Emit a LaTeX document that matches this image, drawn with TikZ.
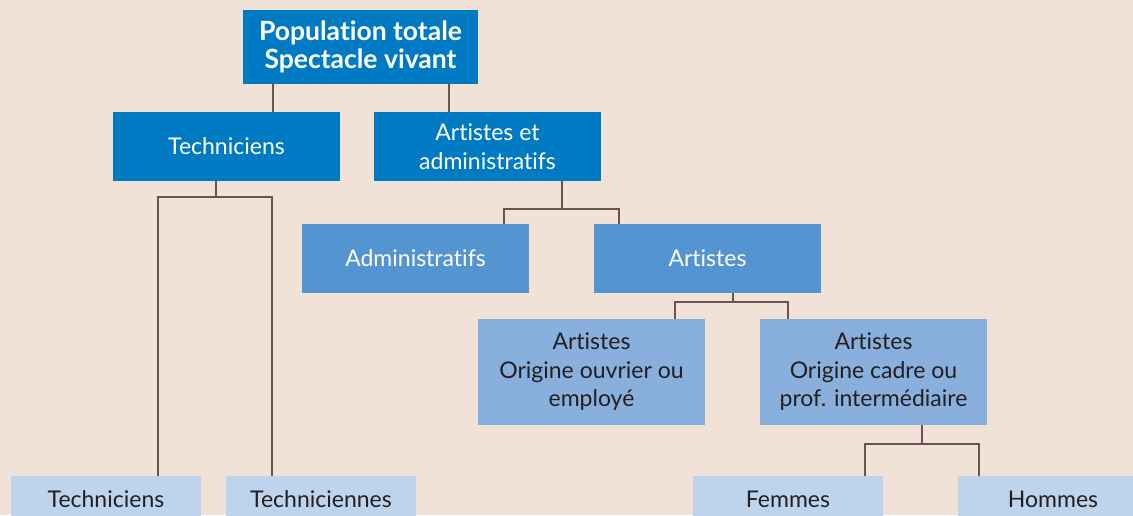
\documentclass[tikz,border=0pt]{standalone}
\usepackage{fontspec}
\setmainfont{Lato}[Ligatures=NoCommon]
\usetikzlibrary{calc}
\definecolor{bgc}{HTML}{F0E2D6}
\definecolor{blueA}{HTML}{007AC2}
\definecolor{blueB}{HTML}{5494D0}
\definecolor{blueC}{HTML}{89AFDD}
\definecolor{blueD}{HTML}{BED4EC}
\definecolor{linec}{HTML}{6D5058}
\definecolor{txtd}{HTML}{231F20}
\begin{document}
\begin{tikzpicture}[x=1pt,y=-1pt,
  box/.style={rectangle, inner sep=0pt, align=center, minimum width=227pt, minimum height=69pt, font=\fontsize{23}{28.5}\selectfont},
  lvA/.style={box, fill=blueA, text=white},
  lvB/.style={box, fill=blueB, text=white},
  lvC/.style={box, fill=blueC, text=txtd, minimum height=106pt},
  lvD/.style={box, fill=blueD, text=txtd, minimum width=190pt, minimum height=47pt},
  conn/.style={draw=linec, line width=2pt}]
\useasboundingbox (0,0) rectangle (1133,515);
\fill[bgc] (0,0) rectangle (1133,515);
\clip (0,0) rectangle (1133,515);

\node[lvA, minimum width=235pt, minimum height=74pt, font=\bfseries\fontsize{26.5}{28}\selectfont] (root) at (360.5,47) {Population totale\\Spectacle vivant};
\node[lvA] (tech) at (226.5,146.5) {Techniciens};
\node[lvA] (aa) at (487.5,146.5) {Artistes et\\administratifs};
\node[lvB] (admin) at (415.5,258.3) {Administratifs};
\node[lvB] (art) at (707.5,258.3) {Artistes};
\node[lvC] (ouv) at (591.5,372) {Artistes\\Origine ouvrier ou\\employé};
\node[lvC] (cad) at (873.5,372) {Artistes\\Origine cadre ou\\prof. intermédiaire};
\node[lvD] (btech) at (106,499.5) {Techniciens};
\node[lvD] (btechf) at (321,499.5) {Techniciennes};
\node[lvD] (fem) at (788,499.5) {Femmes};
\node[lvD] (hom) at (1053,499.5) {Hommes};

% root
\coordinate (r1) at ([xshift=30.5pt]root.south west);
\coordinate (r2) at ([xshift=-29pt]root.south east);
\draw[conn] (r1) -- (r1 |- tech.north);
\draw[conn] (r2) -- (r2 |- aa.north);

% techniciens
\coordinate (t0) at ([xshift=-10.5pt]tech.south);
\coordinate (t1) at ([yshift=-16pt]t0);
\coordinate (tL) at ([xshift=52pt]btech.north);
\coordinate (tR) at ([xshift=-49.5pt]btechf.north);
\draw[conn] (t0) -- (t1);
\draw[conn] (tL) |- (t1) -| (tR);

% artistes et administratifs
\coordinate (a0) at ([xshift=74.5pt]aa.south);
\coordinate (a1) at ([yshift=-28pt]a0);
\coordinate (aL) at ([xshift=88pt]admin.north);
\coordinate (aR) at ([xshift=-88.5pt]art.north);
\draw[conn] (a0) -- (a1);
\draw[conn] (aL) |- (a1) -| (aR);

% artistes
\coordinate (s0) at ([xshift=25.5pt]art.south);
\coordinate (s1) at ([yshift=-8.5pt]s0);
\coordinate (sL) at ([xshift=83.5pt]ouv.north);
\coordinate (sR) at ([xshift=-85.5pt]cad.north);
\draw[conn] (s0) -- (s1);
\draw[conn] (sL) |- (s1) -| (sR);

% cadre
\coordinate (c0) at ([xshift=48.5pt]cad.south);
\coordinate (c1) at ([yshift=-18.5pt]c0);
\coordinate (cL) at ([xshift=77pt]fem.north);
\coordinate (cR) at ([xshift=-74.5pt]hom.north);
\draw[conn] (c0) -- (c1);
\draw[conn] (cL) |- (c1) -| (cR);
\end{tikzpicture}
\end{document}
